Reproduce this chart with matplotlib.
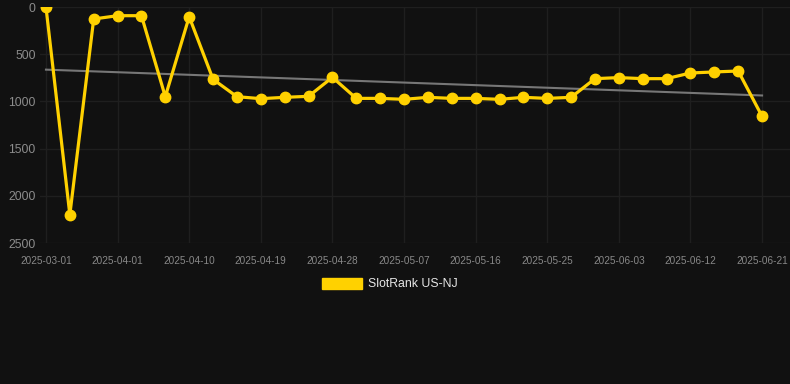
import numpy as np
import matplotlib
matplotlib.use('Agg')
import matplotlib.pyplot as plt
from matplotlib.patches import Patch

plt.rcParams['font.family'] = ['Liberation Sans', 'DejaVu Sans']

# dates shown as categories, a point every few days
dates = ['2025-03-01', '2025-03-13', '2025-03-25',
         '2025-04-01', '2025-04-04', '2025-04-07', '2025-04-10', '2025-04-13', '2025-04-16',
         '2025-04-19', '2025-04-22', '2025-04-25', '2025-04-28', '2025-05-01', '2025-05-04',
         '2025-05-07', '2025-05-10', '2025-05-13', '2025-05-16', '2025-05-19', '2025-05-22',
         '2025-05-25', '2025-05-28', '2025-05-31', '2025-06-03', '2025-06-06', '2025-06-09',
         '2025-06-12', '2025-06-15', '2025-06-18', '2025-06-21']
rank = [0, 2200, 127, 92, 92, 950, 103, 766, 950, 971, 957, 946, 745, 968, 968,
        978, 957, 968, 968, 978, 957, 968, 957, 759, 748, 759, 759, 699, 688, 678, 1158]
y_ticks = [0, 500, 1000, 1500, 2000, 2500]

bg = '#111111'
yellow = '#FFD100'
x = np.arange(len(dates))

fig = plt.figure(figsize=(7.9, 3.84), dpi=100, facecolor=bg)
ax = fig.add_axes([40 / 790, 1 - 243 / 384, 750 / 790, 236 / 384], facecolor=bg)

# trend line (least squares)
k, b = np.polyfit(x, rank, 1)
ax.plot([x[0], x[-1]], [k * x[0] + b, k * x[-1] + b], color='#777777', lw=1.5, zorder=2)

ax.plot(x, rank, color=yellow, lw=2.3, marker='o', ms=7.5,
        solid_joinstyle='miter', zorder=3)

ax.set_ylim(2500, 0)
ax.set_xlim(-0.25, 31.17)
ax.set_yticks(y_ticks)
ax.set_xticks(x[::3])
ax.set_xticklabels(dates[::3])
ax.tick_params(axis='y', length=0, pad=3, labelsize=8.8, labelcolor='#8c8c8c')
ax.tick_params(axis='x', length=0, pad=9, labelsize=7.2, labelcolor='#888888')
ax.grid(True, color='#1f1f1f', lw=1.0)
for s in ax.spines.values():
    s.set_visible(False)

handle = Patch(facecolor=yellow, edgecolor=yellow)
leg = fig.legend([handle], ['SlotRank US-NJ'], loc='center', bbox_to_anchor=(390 / 790, 1 - 284 / 384),
                 frameon=False, fontsize=8.8, handlelength=3.3, handleheight=1.0,
                 handletextpad=0.5)
for t in leg.get_texts():
    t.set_color('#e6e6e6')

fig.savefig('out.png', dpi=100, facecolor=bg)
